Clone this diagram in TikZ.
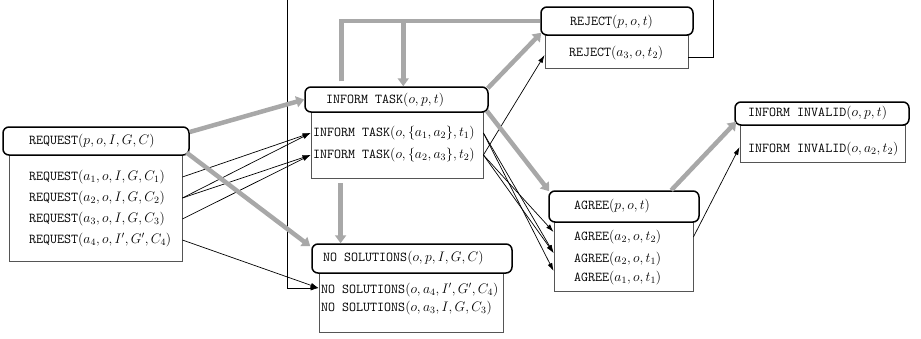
\RequirePackage{fix-cm}
\documentclass[tikz,border=0pt]{standalone}
\usepackage[no-math]{fontspec}
\setmonofont{Latin Modern Mono}
\usetikzlibrary{calc,arrows.meta}
\definecolor{flowgray}{HTML}{A8A8A8}
\definecolor{boxgray}{HTML}{555555}
% message names in typewriter, arguments in math
\newcommand\msgname[1]{{\fontsize{13.6}{15}\selectfont\ttfamily #1}}
\begin{document}
\begin{tikzpicture}[x=1pt,y=-1pt,
  bodybox/.style={draw=boxgray, line width=0.8pt, fill=white, inner sep=0pt},
  headbox/.style={draw=black, line width=1.5pt, rounded corners=6pt, fill=white, inner sep=0pt},
  lbl/.style={font=\fontsize{13.8}{15}\selectfont, inner sep=0pt, anchor=west},
  tarr/.style={draw=black, line width=0.7pt, -{Latex[length=8pt,width=5pt]}},
  garr/.style={draw=flowgray, line width=4.5pt, -{Triangle[length=8pt,width=11pt]}},
  gline/.style={draw=flowgray, line width=4.5pt}]
\useasboundingbox (0,0) rectangle (921,338);
\clip (0,0) rectangle (921,338);

% ---- REQUEST ----
\node[bodybox, minimum width=173pt, minimum height=106pt] (reqB) at (95.5,208) {};
\node[headbox, minimum width=186pt, minimum height=28pt] (reqH) at (96,141) {};
\node[lbl] (req0) at (29,141) {\msgname{REQUEST}$(p,o,I,G,C)$};
\node[lbl] (req1) at (29,177) {\msgname{REQUEST}$(a_1,o,I,G,C_1)$};
\node[lbl] (req2) at (29,198) {\msgname{REQUEST}$(a_2,o,I,G,C_2)$};
\node[lbl] (req3) at (29,219) {\msgname{REQUEST}$(a_3,o,I,G,C_3)$};
\node[lbl] (req4) at (29,240) {\msgname{REQUEST}$(a_4,o,I',G',C_4)$};

% ---- INFORM TASK ----
\node[bodybox, minimum width=172pt, minimum height=66pt] (itB) at (397,145) {};
\node[headbox, minimum width=183pt, minimum height=25pt] (itH) at (396.5,99.5) {};
\node[lbl] (it0) at (326,100) {\msgname{INFORM TASK}$(o,p,t)$};
\node[lbl] (it1) at (313,133) {\msgname{INFORM TASK}$(o,\{a_1,a_2\},t_1)$};
\node[lbl] (it2) at (313,155) {\msgname{INFORM TASK}$(o,\{a_2,a_3\},t_2)$};

% ---- NO SOLUTIONS ----
\node[bodybox, minimum width=184pt, minimum height=59pt] (nsB) at (411,302.5) {};
\node[headbox, minimum width=200pt, minimum height=29pt] (nsH) at (412,258.5) {};
\node[lbl] (ns0) at (323,258.5) {\msgname{NO SOLUTIONS}$(o,p,I,G,C)$};
\node[lbl] (ns1) at (321,290) {\msgname{NO SOLUTIONS}$(o,a_4,I',G',C_4)$};
\node[lbl] (ns2) at (321,308) {\msgname{NO SOLUTIONS}$(o,a_3,I,G,C_3)$};

% ---- REJECT ----
\node[bodybox, minimum width=143pt, minimum height=33pt] (rjB) at (616.5,51.5) {};
\node[headbox, minimum width=152pt, minimum height=28pt] (rjH) at (617,21) {};
\node[lbl] (rj0) at (570,22) {\msgname{REJECT}$(p,o,t)$};
\node[lbl] (rj1) at (569,53) {\msgname{REJECT}$(a_3,o,t_2)$};

% ---- AGREE ----
\node[bodybox, minimum width=139pt, minimum height=69pt] (agB) at (623.5,256.5) {};
\node[headbox, minimum width=150pt, minimum height=31pt] (agH) at (624,206.5) {};
\node[lbl] (ag0) at (574,206.5) {\msgname{AGREE}$(p,o,t)$};
\node[lbl] (ag1) at (574,237) {\msgname{AGREE}$(a_2,o,t_2)$};
\node[lbl] (ag2) at (574,259) {\msgname{AGREE}$(a_2,o,t_1)$};
\node[lbl] (ag3) at (574,278) {\msgname{AGREE}$(a_1,o,t_1)$};

% ---- INFORM INVALID ----
\node[bodybox, minimum width=165pt, minimum height=37pt] (ivB) at (822.5,143.5) {};
\node[headbox, minimum width=174pt, minimum height=23pt] (ivH) at (822,113.5) {};
\node[lbl] (iv0) at (748,113.5) {\msgname{INFORM INVALID}$(o,p,t)$};
\node[lbl] (iv1) at (748,149) {\msgname{INFORM INVALID}$(o,a_2,t_2)$};

% ---- individual messages ----
\draw[tarr] (reqB.east |- req1) -- (itB.west |- it1);
\draw[tarr] (reqB.east |- req2) -- (itB.west |- it1);
\draw[tarr] (reqB.east |- req2) -- (itB.west |- it2);
\draw[tarr] (reqB.east |- req3) -- (itB.west |- it2);
\coordinate (nsIn) at ($(nsB.west |- ns1)+(0,-2)$);
\draw[tarr] (reqB.east |- req4) -- (nsIn);

\draw[tarr] (itB.east |- it2) -- ($(rjB.west |- rj1)+(0,2)$);
\draw[tarr] (itB.east |- it1) -- ($(agB.west |- ag2)+(0,-6)$);
\draw[tarr] (itB.east |- it1) -- ($(agB.west |- ag3)+(0,-7)$);
\draw[tarr] (itB.east |- it2) -- ($(agB.west |- ag1)+(0,-5)$);
\draw[tarr] (itB.east |- it2) -- ($(agB.west |- ag2)+(0,-6)$);
\draw[tarr] (agB.east |- ag1) -- ($(ivB.west |- iv1)+(0,-2)$);

% rejection routed back over the top
\coordinate (lpA) at ($(rjB.east)+(25,-70)$);
\coordinate (lpB) at ($(itB.west)+(-23,-165)$);
\draw[tarr] ($(rjB.east)+(0,5.5)$) -| (lpA) -| (lpB) |- (nsIn);

% ---- protocol flow ----
\draw[garr] ($(reqH.east)+(0,-9)$) -- (itH.west);
\draw[garr] ($(reqH.south east)+(-3,-3)$) -- ($(nsH.north west)+(-1,3)$);
\coordinate (gDown) at ($(itB.south west)+(30,5)$);
\draw[garr] (gDown) -- (gDown |- nsH.north);
\coordinate (gUp) at ($(itH.north west)+(37,-5)$);
\draw[gline] (gUp) |- (rjH.west);
\coordinate (gBack) at ($(itH.north west)+(99,0)$);
\draw[garr] (gBack |- rjH.west) -- (gBack);
\draw[garr] ($(itH.north east)+(-1,2)$) -- ($(rjH.south west)+(1,-3)$);
\draw[garr] ($(itH.south east)+(-2,-2)$) -- ($(agH.north west)+(1,1)$);
\draw[garr] ($(agH.north west)+(123,0)$) -- ($(ivH.south west)+(2,-4)$);
\end{tikzpicture}
\end{document}
